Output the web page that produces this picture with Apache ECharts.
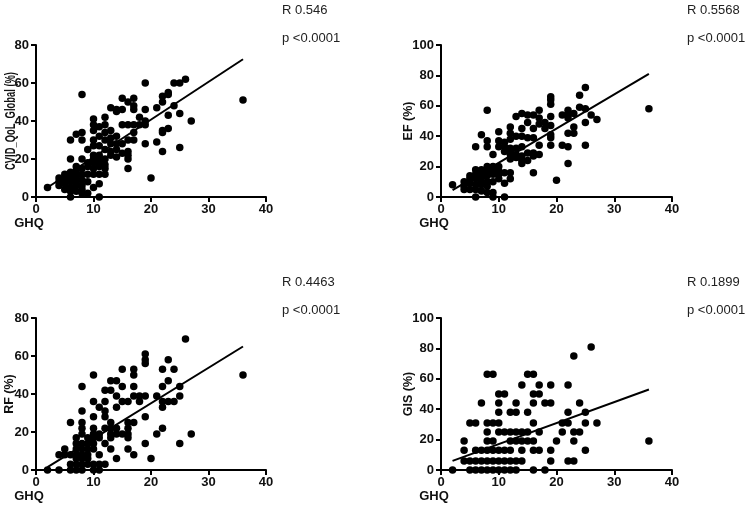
<!DOCTYPE html>
<html>
<head>
<meta charset="utf-8">
<script src="https://cdn.jsdelivr.net/npm/echarts@6/dist/echarts.min.js"></script>
<style>
html,body{margin:0;padding:0;background:#fff;}
#c{width:748px;height:508px;}
</style>
</head>
<body>
<div id="c"></div>
<script>
// ---- data ----
const xTicks = [0, 10, 20, 30, 40];
const panelNames = ['CVID_QoL_Global (%)', 'EF (%)', 'RF (%)', 'GIS (%)'];
const rValues = ['0.546', '0.5568', '0.4463', '0.1899'];
const pValues = ['<0.0001', '<0.0001', '<0.0001', '<0.0001'];
const yMaxes = [80, 100, 80, 100];

const qolPoints = [[2,5],[4,8],[4,6],[4,10],[5,12],[5,9],[5,7],[5,4],[6,30],[6,20],[6,13],[6,10],[6,8],[6,5],[6,3],[6,0],[7,33],[7,16],[7,14],[7,12],[7,10],[7,8],[7,6],[7,3],[8,54],[8,34],[8,30],[8,20],[8,15],[8,12],[8,9],[8,6],[8,4],[8,2],[9,25],[9,18],[9,16],[9,12],[9,8],[9,2],[10,41],[10,38],[10,35],[10,30],[10,27],[10,22],[10,20],[10,18],[10,15],[10,12],[10,5],[11,37],[11,32],[11,27],[11,22],[11,19],[11,16],[11,12],[11,7],[11,0],[12,42],[12,38],[12,34],[12,30],[12,25],[12,20],[12,17],[12,15],[12,12],[13,47],[13,35],[13,31],[13,28],[13,24],[13,22],[14,46],[14,45],[14,32],[14,28],[14,25],[14,21],[15,52],[15,46],[15,38],[15,28],[15,23],[16,50],[16,38],[16,30],[16,24],[16,22],[16,20],[16,15],[17,52],[17,48],[17,46],[17,38],[17,34],[17,30],[18,42],[18,38],[19,60],[19,46],[19,40],[19,38],[19,28],[20,10],[21,47],[21,29],[22,53],[22,50],[22,35],[22,34],[22,24],[23,55],[23,54],[23,43],[23,36],[24,60],[24,48],[25,60],[25,44],[25,26],[26,62],[27,40],[36,51]];

const efPoints = [[2,8],[4,10],[4,7],[4,5],[5,14],[5,12],[5,9],[5,5],[6,33],[6,18],[6,15],[6,12],[6,8],[6,5],[6,0],[7,41],[7,18],[7,15],[7,13],[7,10],[7,8],[7,4],[8,57],[8,37],[8,33],[8,20],[8,17],[8,14],[8,10],[8,7],[8,3],[9,28],[9,20],[9,18],[9,15],[9,10],[9,3],[9,0],[10,43],[10,37],[10,33],[10,20],[10,17],[10,15],[10,12],[11,36],[11,33],[11,30],[11,16],[11,9],[11,0],[12,46],[12,42],[12,38],[12,32],[12,30],[12,28],[12,25],[12,16],[12,12],[13,53],[13,40],[13,32],[13,28],[13,26],[14,55],[14,45],[14,40],[14,33],[14,27],[14,24],[14,22],[15,54],[15,49],[15,39],[15,29],[15,24],[16,54],[16,45],[16,39],[16,29],[16,27],[16,16],[17,57],[17,52],[17,48],[17,34],[17,28],[18,49],[18,45],[19,66],[19,64],[19,61],[19,53],[19,47],[19,41],[19,39],[19,34],[20,11],[21,54],[21,34],[22,57],[22,54],[22,52],[22,42],[22,33],[22,22],[23,55],[23,46],[23,42],[24,67],[24,59],[25,72],[25,58],[25,49],[25,34],[26,54],[27,51],[36,58]];

const rfPoints = [[2,0],[4,0],[4,8],[5,11],[5,8],[6,25],[6,8],[6,3],[6,0],[7,17],[7,14],[7,11],[7,8],[7,6],[7,3],[7,0],[8,44],[8,31],[8,25],[8,22],[8,19],[8,14],[8,11],[8,8],[8,6],[8,3],[8,0],[9,17],[9,14],[9,11],[9,8],[9,6],[9,3],[10,50],[10,36],[10,28],[10,22],[10,19],[10,17],[10,14],[10,11],[10,3],[10,0],[11,33],[11,19],[11,17],[11,8],[11,3],[11,0],[12,42],[12,36],[12,31],[12,28],[12,22],[12,14],[12,3],[13,47],[13,42],[13,25],[13,22],[13,19],[13,17],[13,11],[14,47],[14,39],[14,33],[14,22],[14,19],[14,6],[15,53],[15,44],[15,36],[15,19],[16,36],[16,25],[16,22],[16,19],[16,17],[16,11],[17,53],[17,50],[17,44],[17,39],[17,25],[17,8],[18,39],[18,36],[19,61],[19,58],[19,56],[19,39],[19,28],[19,14],[20,6],[21,39],[21,19],[22,53],[22,44],[22,36],[22,33],[22,22],[23,58],[23,47],[23,36],[24,53],[24,36],[25,44],[25,39],[25,14],[26,69],[27,19],[36,50]];

const gisPoints = [[2,0],[4,19],[4,13],[4,6],[5,31],[5,6],[5,0],[6,31],[6,13],[6,6],[6,0],[7,44],[7,13],[7,6],[7,0],[8,63],[8,31],[8,25],[8,19],[8,13],[8,6],[8,0],[9,63],[9,31],[9,19],[9,13],[9,6],[9,0],[10,50],[10,44],[10,38],[10,31],[10,25],[10,13],[10,6],[10,0],[11,50],[11,25],[11,13],[11,6],[11,0],[12,38],[12,25],[12,19],[12,13],[12,6],[12,0],[13,44],[13,38],[13,25],[13,19],[13,6],[13,0],[14,56],[14,25],[14,19],[14,13],[14,6],[15,63],[15,38],[15,25],[15,19],[16,63],[16,50],[16,44],[16,31],[16,19],[16,13],[16,0],[17,56],[17,50],[17,25],[17,13],[18,44],[18,0],[19,56],[19,44],[19,13],[19,6],[20,19],[21,31],[21,25],[22,56],[22,38],[22,31],[22,6],[23,75],[23,25],[23,19],[23,6],[24,44],[24,25],[25,38],[25,31],[25,13],[26,81],[27,31],[36,19]];

// regression line end points
const qolFit = [[2,5],[36,72.5]];
const efFit = [[2,4.5],[36,81]];
const rfFit = [[2,1.5],[36,65]];
const gisFit = [[2,6],[36,53]];

const allPoints = [qolPoints, efPoints, rfPoints, gisPoints];
const allFits = [qolFit, efFit, rfFit, gisFit];

// ---- layout ----
const FONT = '"Liberation Sans", Arial, Helvetica, sans-serif';
const grids = [
  {left: 36, top: 45, width: 230, height: 152, outerBoundsMode: 'none'},
  {left: 441, top: 45, width: 231, height: 152, outerBoundsMode: 'none'},
  {left: 36, top: 318, width: 230, height: 152, outerBoundsMode: 'none'},
  {left: 441, top: 318, width: 231, height: 152, outerBoundsMode: 'none'}
];
const nameGaps = [18, 26, 20, 26];
const annot = [[282, 10, 38], [687, 10, 38], [282, 282, 310], [687, 282, 310]];

const axisCommon = {
  axisLine: {show: true, lineStyle: {color: '#000', width: 2}},
  axisTick: {show: true, length: 5, lineStyle: {color: '#000', width: 2}},
  splitLine: {show: false},
  axisLabel: {color: '#111', fontWeight: 'bold', fontSize: 13, fontFamily: FONT}
};

const xAxis = grids.map((g, i) => Object.assign({}, axisCommon, {
  type: 'value', gridIndex: i, min: 0, max: 40, interval: 10,
  name: 'GHQ', nameLocation: 'start', nameGap: 7, nameMoveOverlap: false,
  nameTextStyle: {color: '#111', fontWeight: 'bold', fontSize: 13, fontFamily: FONT,
    align: 'center', verticalAlign: 'top', padding: [20, 0, 0, 0]},
  axisLabel: Object.assign({}, axisCommon.axisLabel, {margin: 6})
}));
// the first (long) y-axis title is drawn condensed as a graphic text below
const yAxis = grids.map((g, i) => Object.assign({}, axisCommon, {
  type: 'value', gridIndex: i, min: 0, max: yMaxes[i], interval: 20,
  name: i === 0 ? '' : panelNames[i], nameLocation: 'middle', nameGap: nameGaps[i],
  nameMoveOverlap: false,
  nameTextStyle: {color: '#111', fontWeight: 'bold', fontSize: 12.5, fontFamily: FONT},
  axisLabel: Object.assign({}, axisCommon.axisLabel, {margin: 7})
}));

const series = [];
allPoints.forEach((pts, i) => {
  series.push({type: 'scatter', xAxisIndex: i, yAxisIndex: i, data: pts,
    symbolSize: 7.5, itemStyle: {color: '#000', opacity: 1}, silent: true});
  series.push({type: 'line', xAxisIndex: i, yAxisIndex: i, data: allFits[i],
    symbol: 'none', lineStyle: {color: '#000', width: 2}, silent: true, z: 3});
});

const graphic = [{
  type: 'text', x: 11, y: 121, rotation: Math.PI / 2, scaleX: 0.67, scaleY: 1,
  style: {text: panelNames[0], font: 'bold 14px ' + FONT, fill: '#111',
    align: 'center', verticalAlign: 'middle'}
}];
annot.forEach((a, i) => {
  graphic.push({type: 'text', left: a[0], top: a[1] - 6,
    style: {text: 'R ' + rValues[i], font: '13px ' + FONT, fill: '#222'}});
  graphic.push({type: 'text', left: a[0], top: a[2] - 6,
    style: {text: 'p ' + pValues[i], font: '13px ' + FONT, fill: '#222'}});
});

const chart = echarts.init(document.getElementById('c'), null, {renderer: 'canvas'});
chart.setOption({
  animation: false,
  backgroundColor: '#fff',
  grid: grids,
  xAxis: xAxis,
  yAxis: yAxis,
  series: series,
  graphic: graphic
});
</script>
</body>
</html>
